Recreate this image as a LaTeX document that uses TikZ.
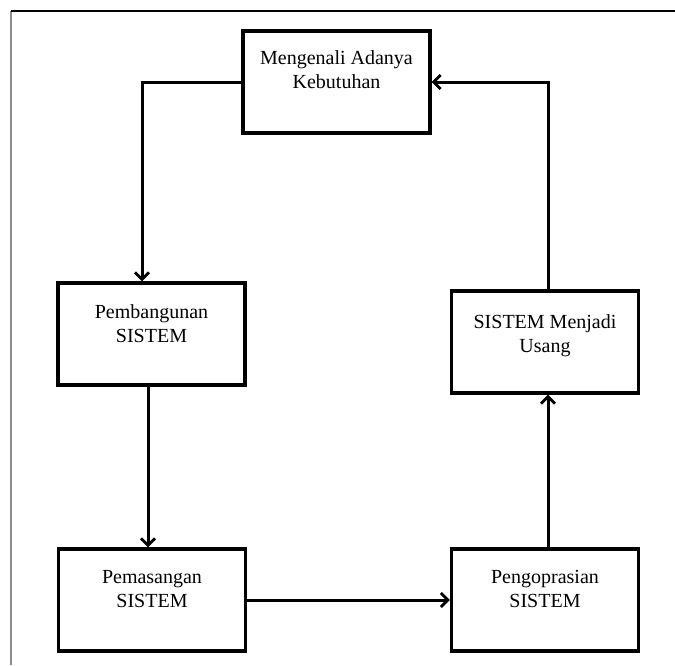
\documentclass[tikz,border=0pt]{standalone}
\usepackage{fontspec}
\setmainfont{Liberation Serif}
\usetikzlibrary{arrows.meta}
\begin{document}
\begin{tikzpicture}[x=1pt,y=1pt,
  box/.style={draw=black, line width=3.2pt, minimum width=187pt, minimum height=102pt, inner sep=0pt},
  lbl/.style={anchor=north, align=center, inner sep=0pt, font=\fontsize{20}{24}\selectfont},
  arr/.style={draw=black, line width=3pt, -{Straight Barb[length=7pt,width=14pt,line width=2.8pt]}},
  frameL/.style={draw=black!45, line width=1.3pt},
  frameT/.style={draw=black, line width=1.3pt}]
\useasboundingbox (0,0) rectangle (675,-665);
% frame
\coordinate (fbl) at (11,-665);
\coordinate (ftl) at (11,-11);
\coordinate (ftr) at (675,-11);
\draw[frameL] (fbl) -- (ftl);
\draw[frameT] (ftl) -- (ftr);
% boxes
\node[box] (n1) at (336.5,-82) {};
\node[box] (n2) at (151.5,-334) {};
\node[box] (n3) at (152,-600) {};
\node[box] (n4) at (545,-600) {};
\node[box] (n5) at (545,-342) {};
% labels
\node[lbl] (t1) at ([yshift=-21pt]n1.north) {Mengenali Adanya\\Kebutuhan};
\node[lbl] (t2) at ([yshift=-23pt]n2.north) {Pembangunan\\SISTEM};
\node[lbl] (t3) at ([yshift=-23pt]n3.north) {Pemasangan\\SISTEM};
\node[lbl] (t4) at ([yshift=-23pt]n4.north) {Pengoprasian\\SISTEM};
\node[lbl] (t5) at ([yshift=-25pt]n5.north) {SISTEM Menjadi\\Usang};
% connectors
\draw[arr] (n1.west) -| ([xshift=-9.5pt]n2.north);
\draw[arr] ([xshift=-3.5pt]n2.south) -- ([xshift=-3.5pt]n2.south |- n3.north);
\draw[arr] (n3.east) -- (n4.west);
\draw[arr] ([xshift=3pt]n4.north) -- ([xshift=3pt]n4.north |- n5.south);
\draw[arr] ([xshift=3pt]n5.north) |- (n1.east);
\end{tikzpicture}
\end{document}
